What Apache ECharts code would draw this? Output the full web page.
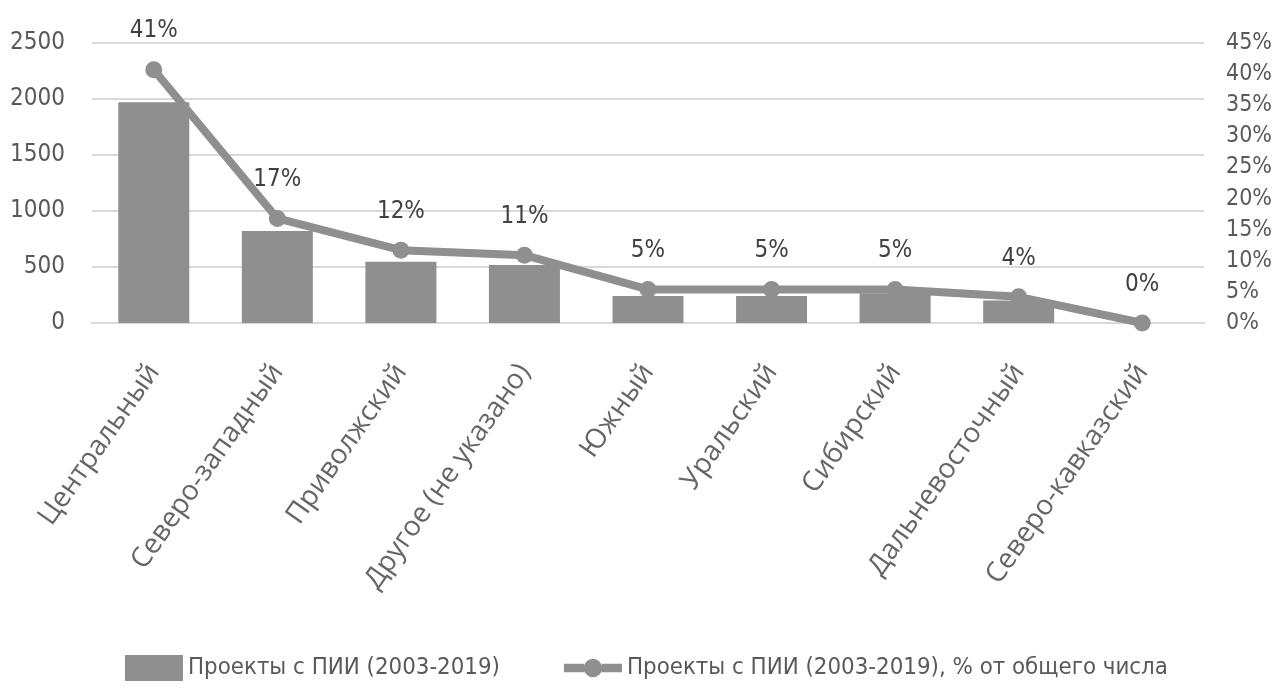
<!DOCTYPE html>
<html><head><meta charset="utf-8">
<script src="https://cdn.jsdelivr.net/npm/echarts@6/dist/echarts.min.js"></script>
<style>html,body{margin:0;padding:0;background:#fff}#c{width:1281px;height:688px}</style>
</head><body><div id="c"></div>
<script>
const categories = ['Центральный','Северо-западный','Приволжский','Другое (не указано)','Южный','Уральский','Сибирский','Дальневосточный','Северо-кавказский'];
const projects = [1970, 821, 547, 518, 241, 241, 265, 200, 0];
const shares = [40.7, 16.8, 11.7, 10.9, 5.4, 5.4, 5.4, 4.2, 0];
const barName = 'Проекты с ПИИ (2003-2019)';
const lineName = 'Проекты с ПИИ (2003-2019), % от общего числа';
const leftAxis = {min: 0, max: 2500, step: 500};
const rightAxis = {min: 0, max: 45, step: 5};

function pickFont(cands, fallback) {
  const c = document.createElement('canvas').getContext('2d');
  const txt = 'Проекты 2003-2019 mmmWWWiii';
  c.font = '40px monospace'; const b1 = c.measureText(txt).width;
  c.font = '40px serif'; const b2 = c.measureText(txt).width;
  for (const f of cands) {
    c.font = '40px "' + f + '", monospace'; const w1 = c.measureText(txt).width;
    c.font = '40px "' + f + '", serif'; const w2 = c.measureText(txt).width;
    if (w1 !== b1 || w2 !== b2) return f;
  }
  return fallback;
}
const narrowName = pickFont(['Liberation Sans Narrow', 'Arial Narrow', 'DejaVu Sans Condensed', 'Roboto Condensed', 'Open Sans Condensed'], 'Roboto');
const NARROW = '"' + narrowName + '", Roboto, sans-serif';
function fitSize(text, target, maxSize) {
  const c = document.createElement('canvas').getContext('2d');
  c.font = '28px ' + NARROW;
  const w = c.measureText(text).width;
  return Math.min(maxSize, Math.round(28 * target / w * 10) / 10);
}
const legendSize = fitSize(barName, 312, 29);

const GREY = '#8f8f8f';
const lineIcon = 'path://M0,5L21,5L21,14L0,14Z M39,5L60,5L60,14L39,14Z M20.5,9.5A9.5,9.5,0,1,1,39.5,9.5A9.5,9.5,0,1,1,20.5,9.5Z';
const chart = echarts.init(document.getElementById('c'));
chart.setOption({
  animation: false,
  grid: {left: 92, right: 77, top: 43, bottom: 365, outerBoundsMode: 'none', containLabel: false},
  legend: {
    left: 120, top: 650, itemWidth: 58, itemHeight: 26, itemGap: 64,
    textStyle: {fontFamily: NARROW, fontSize: legendSize, color: '#595959'},
    data: [{name: barName, icon: 'rect'}, {name: lineName, icon: lineIcon, itemStyle: {color: GREY}}]
  },
  xAxis: {
    type: 'category', data: categories,
    axisLine: {lineStyle: {color: '#d9d9d9', width: 2}},
    axisTick: {show: false},
    axisLabel: {rotate: 55, margin: 44, fontFamily: '"Open Sans", sans-serif', fontSize: 28, color: '#666666', interval: 0}
  },
  yAxis: [{
    type: 'value', min: leftAxis.min, max: leftAxis.max, interval: leftAxis.step,
    axisLine: {show: false}, axisTick: {show: false},
    splitLine: {lineStyle: {color: '#d9d9d9', width: 2}},
    axisLabel: {margin: 27, fontFamily: NARROW, fontSize: 24, color: '#595959', formatter: v => String(v)}
  }, {
    type: 'value', min: rightAxis.min, max: rightAxis.max, interval: rightAxis.step,
    axisLine: {show: false}, axisTick: {show: false}, splitLine: {show: false},
    axisLabel: {margin: 22, fontFamily: NARROW, fontSize: 23, color: '#595959', formatter: v => v + '%'}
  }],
  series: [{
    name: barName, type: 'bar', data: projects, barWidth: 71,
    itemStyle: {color: GREY}
  }, {
    name: lineName, type: 'line', yAxisIndex: 1, data: shares, z: 5,
    symbol: 'circle', symbolSize: 17,
    lineStyle: {color: GREY, width: 8}, itemStyle: {color: GREY},
    label: {show: true, position: 'top', distance: 18, fontFamily: NARROW, fontSize: 24, color: '#404040',
      formatter: p => Math.round(p.value) + '%'}
  }]
});
</script></body></html>
